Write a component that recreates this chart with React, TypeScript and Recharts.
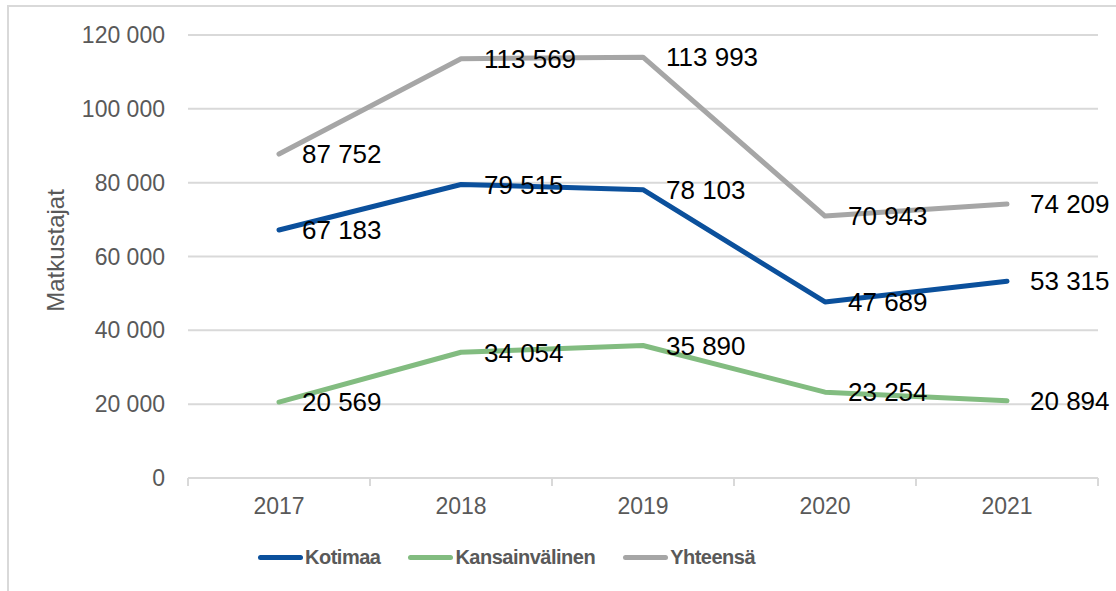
import React from 'react';
import { LineChart, Line, XAxis, YAxis, CartesianGrid, Legend, LabelList, Label } from 'recharts';

const years = ['2017', '2018', '2019', '2020', '2021'];
const kotimaa = [67183, 79515, 78103, 47689, 53315];
const kansainvalinen = [20569, 34054, 35890, 23254, 20894];
const yhteensa = [87752, 113569, 113993, 70943, 74209];
const yTicks = [0, 20000, 40000, 60000, 80000, 100000, 120000];

const seriesInfo = [
  { key: 'Kotimaa', color: '#0B509C' },
  { key: 'Kansainvälinen', color: '#82BC80' },
  { key: 'Yhteensä', color: '#A6A6A6' },
];

const data = years.map((y, i) => ({
  year: y,
  Kotimaa: kotimaa[i],
  'Kansainvälinen': kansainvalinen[i],
  'Yhteensä': yhteensa[i],
}));

const FONT = '"Liberation Sans", Arial, sans-serif';
const fmt = (v: number) => String(v).replace(/\B(?=(\d{3})+(?!\d))/g, ' ');

const XTick = (props: any) => {
  const { x, y, payload, index, visibleTicksCount } = props;
  const off = payload.offset || 0;
  const axisY = y - 20;
  return (
    <g>
      <line x1={x - off} x2={x - off} y1={axisY} y2={axisY + 8} stroke="#D9D9D9" strokeWidth={2} />
      {index === (visibleTicksCount ?? years.length) - 1 && (
        <line x1={x + off} x2={x + off} y1={axisY} y2={axisY + 8} stroke="#D9D9D9" strokeWidth={2} />
      )}
      <text x={x} y={y + 16} textAnchor="middle" fill="#595959" fontSize={23} fontFamily={FONT}>
        {payload.value}
      </text>
    </g>
  );
};

const LegendContent = () => (
  <div style={{ display: 'flex', alignItems: 'center', fontFamily: FONT, whiteSpace: 'nowrap' }}>
    {seriesInfo.map((s, i) => (
      <div key={s.key} style={{ display: 'flex', alignItems: 'center', marginRight: i < 2 ? 28 : 0 }}>
        <span style={{ display: 'inline-block', width: 45, height: 5, borderRadius: 3, background: s.color, marginRight: 2 }} />
        <span style={{ fontWeight: 'bold', fontSize: 20, letterSpacing: '-0.5px', color: '#595959', lineHeight: '24px' }}>{s.key}</span>
      </div>
    ))}
  </div>
);

export default function App() {
  return (
    <div style={{ position: 'absolute', left: 0, top: 0, width: 1116, height: 591, overflow: 'hidden', background: '#fff' }}>
      <style>{`body{margin:0;overflow:hidden;}`}</style>
      <div style={{ position: 'absolute', left: 7, top: 5, width: 1120, height: 600, borderTop: '2px solid #D9D9D9', borderLeft: '2px solid #D9D9D9' }} />
      <div style={{ position: 'absolute', left: 0, top: 0 }}>
        <LineChart width={1116} height={591} data={data} margin={{ top: 35, right: 18, bottom: 83, left: 100 }}>
          <CartesianGrid vertical={false} stroke="#D9D9D9" strokeWidth={2} />
          <XAxis
            dataKey="year"
            scale="band"
            axisLine={{ stroke: '#D9D9D9', strokeWidth: 2 }}
            tickLine={false}
            tickSize={8}
            tickMargin={12}
            height={30}
            tick={<XTick />}
            interval={0}
          />
          <YAxis
            domain={[0, 120000]}
            ticks={yTicks}
            width={88}
            axisLine={false}
            tickLine={false}
            tickSize={8}
            tickMargin={15}
            tickFormatter={fmt}
            tick={{ fill: '#595959', fontSize: 23, fontFamily: FONT }}
          >
            <Label
              content={(p: any) => {
                const vb = p.viewBox || { x: 100, y: 35, width: 88, height: 443 };
                const cx = vb.x - 45;
                const cy = vb.y + vb.height / 2 - 6;
                return (
                  <text
                    x={cx}
                    y={cy}
                    transform={`rotate(-90 ${cx} ${cy})`}
                    textAnchor="middle"
                    dy="0.36em"
                    fill="#595959"
                    fontSize={24}
                    fontFamily={FONT}
                  >
                    Matkustajat
                  </text>
                );
              }}
            />
          </YAxis>
          <Legend
            layout="vertical"
            align="center"
            verticalAlign="middle"
            content={<LegendContent />}
            wrapperStyle={{ left: 258, top: 545, width: 'auto', height: 'auto' }}
          />
          {seriesInfo.map((s) => (
            <Line
              key={s.key}
              dataKey={s.key}
              stroke={s.color}
              strokeWidth={5}
              strokeLinecap="round"
              strokeLinejoin="round"
              dot={false}
              activeDot={false}
              isAnimationActive={false}
            >
              <LabelList
                dataKey={s.key}
                position="right"
                offset={23}
                formatter={(v: any) => fmt(v)}
                fill="#000"
                fontSize={26}
                fontFamily={FONT}
              />
            </Line>
          ))}
        </LineChart>
      </div>
    </div>
  );
}
